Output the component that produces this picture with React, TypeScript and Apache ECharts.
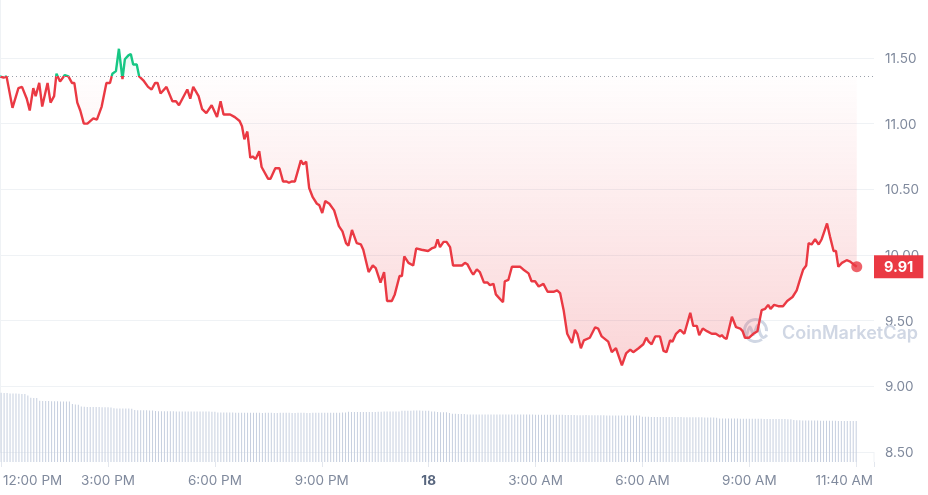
import React, { useEffect, useRef } from "react";
import * as echarts from "echarts";

// Minutes since 12:00 PM (day 17) and price in USD
const minutes = [
  0, 6, 11, 21, 31, 37, 45, 50, 56, 60, 66, 71, 80, 85, 91, 95, 101, 109, 115, 121, 125, 130, 135, 141, 147, 157, 163, 171,
  179, 185, 189, 195, 200, 206, 210, 216, 220, 224, 230, 234, 241, 249, 255, 261, 265, 270, 280, 290, 296, 301, 315, 320,
  325, 334, 340, 347, 356, 365, 371, 376, 387, 395, 403, 407, 411, 416, 421, 425, 430, 436, 440, 451, 455, 463, 470, 476,
  482, 486, 491, 496, 506, 510, 515, 520, 526, 533, 537, 542, 547, 554, 562, 570, 576, 582, 586, 592, 600, 607, 611, 620,
  627, 632, 640, 646, 651, 659, 664, 672, 676, 680, 687, 695, 700, 709, 720, 726, 732, 736, 740, 746, 751, 757, 762, 769,
  777, 782, 786, 793, 796, 802, 807, 814, 820, 824, 830, 834, 840, 846, 849, 855, 861, 875, 880, 889, 894, 900, 906, 914,
  921, 931, 937, 942, 948, 954, 962, 967, 971, 977, 982, 992, 1001, 1006, 1012, 1023, 1029, 1036, 1046, 1053, 1060, 1065,
  1074, 1082, 1087, 1091, 1096, 1102, 1110, 1116, 1121, 1127, 1131, 1137, 1144, 1151, 1161, 1166, 1172, 1176, 1182, 1189,
  1197, 1204, 1211, 1214, 1218, 1222, 1231, 1238, 1245, 1249, 1253, 1260, 1267, 1274, 1281, 1287, 1292, 1296, 1302, 1309,
  1317, 1324, 1333, 1340, 1346, 1351, 1356, 1360, 1365, 1371, 1377, 1382, 1391, 1396, 1402, 1406, 1410, 1416, 1424, 1430,
  1435, 1441,
];
const prices = [
  11.36, 11.35, 11.36, 11.12, 11.27, 11.28, 11.19, 11.1, 11.27, 11.21, 11.31, 11.13, 11.31, 11.16, 11.21, 11.38, 11.32,
  11.37, 11.36, 11.31, 11.31, 11.16, 11.1, 11.0, 11.0, 11.04, 11.03, 11.13, 11.31, 11.31, 11.38, 11.4, 11.57, 11.34, 11.49,
  11.52, 11.53, 11.45, 11.45, 11.36, 11.33, 11.28, 11.26, 11.31, 11.31, 11.23, 11.28, 11.17, 11.17, 11.14, 11.26, 11.19,
  11.28, 11.21, 11.11, 11.08, 11.14, 11.05, 11.17, 11.07, 11.07, 11.05, 11.02, 10.98, 10.88, 10.94, 10.74, 10.75, 10.73,
  10.79, 10.67, 10.58, 10.58, 10.66, 10.66, 10.56, 10.56, 10.55, 10.56, 10.56, 10.72, 10.69, 10.71, 10.51, 10.44, 10.39,
  10.38, 10.32, 10.41, 10.39, 10.34, 10.22, 10.18, 10.09, 10.07, 10.19, 10.09, 10.08, 10.04, 9.87, 9.92, 9.9, 9.79, 9.87,
  9.65, 9.65, 9.7, 9.84, 9.84, 9.99, 9.94, 9.92, 10.05, 10.04, 10.03, 10.05, 10.06, 10.12, 10.06, 10.1, 10.1, 10.06, 9.92,
  9.92, 9.92, 9.94, 9.93, 9.87, 9.85, 9.89, 9.87, 9.79, 9.79, 9.77, 9.78, 9.7, 9.67, 9.64, 9.8, 9.81, 9.91, 9.91, 9.89,
  9.86, 9.8, 9.8, 9.76, 9.78, 9.72, 9.72, 9.73, 9.71, 9.58, 9.4, 9.33, 9.43, 9.4, 9.29, 9.35, 9.37, 9.45, 9.44, 9.38,
  9.34, 9.26, 9.29, 9.16, 9.25, 9.28, 9.26, 9.29, 9.32, 9.37, 9.34, 9.32, 9.38, 9.38, 9.27, 9.26, 9.35, 9.34, 9.4, 9.43,
  9.4, 9.56, 9.46, 9.46, 9.39, 9.44, 9.42, 9.4, 9.4, 9.38, 9.39, 9.37, 9.36, 9.53, 9.45, 9.44, 9.42, 9.37, 9.37, 9.4,
  9.42, 9.58, 9.59, 9.62, 9.59, 9.62, 9.61, 9.61, 9.65, 9.68, 9.73, 9.82, 9.89, 9.92, 10.09, 10.08, 10.12, 10.08, 10.12,
  10.24, 10.14, 10.03, 10.03, 9.91, 9.94, 9.96, 9.95, 9.93, 9.91,
];
const openPrice = 11.363;

// 24h volume (millions), one bar every 5 minutes from 12:00 PM
const volumeStepMinutes = 5;
const volume24h = [
  69.2, 69.0, 68.9, 68.6, 68.4, 68.4, 68.2, 68.1, 67.9, 66.6, 64.3, 64.1,
  63.9, 61.2, 61.0, 61.0, 60.9, 60.8, 60.8, 60.7, 60.6, 60.5, 60.5, 60.4,
  58.0, 57.6, 57.3, 55.4, 55.2, 55.1, 55.0, 55.0, 54.9, 54.9, 54.8, 54.8,
  54.7, 54.4, 53.7, 53.6, 53.5, 53.5, 53.4, 53.4, 53.3, 51.9, 51.8, 51.8,
  51.7, 51.7, 51.6, 51.6, 50.9, 50.8, 50.8, 50.8, 50.7, 50.7, 50.7, 50.6,
  50.6, 50.6, 50.6, 50.5, 50.5, 50.5, 50.5, 50.4, 50.4, 50.4, 50.4, 50.3,
  50.3, 49.6, 49.5, 49.5, 49.4, 49.4, 49.4, 49.3, 49.3, 49.3, 49.3, 49.3,
  49.3, 49.2, 49.2, 49.2, 49.1, 49.2, 49.2, 49.2, 49.1, 49.1, 49.2, 49.2,
  49.2, 49.2, 49.1, 49.1, 49.2, 49.2, 49.2, 49.1, 49.1, 49.2, 49.2, 49.2,
  49.2, 49.2, 49.3, 49.3, 49.3, 49.3, 49.3, 49.4, 49.4, 50.2, 50.1, 50.1,
  50.0, 50.0, 49.9, 49.9, 49.9, 49.9, 50.0, 50.3, 50.3, 50.4, 50.4, 50.4,
  50.4, 50.4, 50.5, 51.3, 51.3, 51.3, 51.3, 51.4, 51.4, 51.4, 51.3, 51.3,
  51.2, 50.6, 50.4, 50.0, 49.8, 49.7, 49.7, 49.0, 48.3, 48.2, 48.1, 48.1,
  48.0, 47.6, 47.5, 47.6, 47.6, 47.5, 47.5, 47.5, 47.4, 47.4, 47.6, 47.6,
  47.5, 47.5, 47.4, 47.4, 47.5, 47.5, 47.5, 47.4, 47.4, 47.4, 47.4, 47.4,
  47.3, 47.3, 47.3, 47.2, 47.2, 47.2, 47.3, 47.3, 47.2, 47.2, 47.1, 47.1,
  47.1, 47.0, 46.8, 46.8, 46.8, 47.0, 46.8, 46.8, 46.7, 46.7, 46.7, 46.7,
  46.6, 46.6, 46.6, 46.6, 46.5, 46.5, 46.5, 46.5, 46.5, 46.4, 46.4, 46.4,
  45.3, 45.2, 45.2, 45.1, 45.1, 45.1, 45.0, 45.0, 45.0, 45.0, 45.0, 44.9,
  44.9, 44.9, 44.8, 44.8, 44.8, 44.8, 44.8, 44.7, 44.7, 44.6, 44.6, 44.6,
  44.6, 44.2, 43.6, 43.5, 43.5, 43.4, 43.4, 43.4, 43.4, 43.3, 43.3, 43.3,
  43.2, 43.2, 43.2, 43.2, 43.2, 43.1, 43.1, 43.1, 43.1, 43.0, 43.0, 42.9,
  42.9, 42.8, 42.8, 41.9, 41.7, 41.7, 41.6, 41.6, 41.5, 41.5, 41.4, 41.4,
  41.3, 41.3, 41.3, 41.2, 41.2, 41.2, 41.1, 41.1, 41.1, 41.0, 41.0, 41.0,
  40.9,
];

// x-axis: a label every 180 minutes, plus the final "11:40 AM" mark
const tickStep = 180;
const tickLabels = ["12:00 PM", "3:00 PM", "6:00 PM", "9:00 PM", "18", "3:00 AM", "6:00 AM", "9:00 AM"];
const lastTickMinute = 1420;
const lastTickLabel = "11:40 AM";
const dayLabel = "18";

// The canvas is extended 20px above the window so the price grid's top (12.00) sits just off-screen.
const OFF = 20;

export default function App() {
  const ref = useRef<HTMLDivElement>(null);

  useEffect(() => {
    if (!ref.current) return;
    const chart = echarts.init(ref.current, null, { renderer: "svg" });
    const RED = "#ea3943";
    const GREEN = "#16c784";
    const GRID = "#eff2f5";
    const LABEL = "#808a9d";
    const WM = "#d0d7e4";
    const FS = 13.5;

    const priceData = minutes.map((m, i) => [m, prices[i]]);
    const redData = minutes.map((m, i) => [m, Math.min(prices[i], openPrice)]);
    const greenData = minutes.map((m, i) => [m, Math.max(prices[i], openPrice)]);
    const volData = volume24h.map((v, i) => [i * volumeStepMinutes, v]);
    const last = prices.length - 1;

    const labelFor = (v: number) => {
      const k = Math.round(v / tickStep);
      if (Math.abs(k * tickStep - v) > 0.5 || k >= tickLabels.length) return "";
      const t = tickLabels[k];
      if (k === 0) return `{first|${t}}`;
      return t === dayLabel ? `{b|${t}}` : t;
    };

    const option: any = {
      animation: false,
      textStyle: { fontFamily: "Inter" },
      grid: [
        { left: 0, right: 54, top: OFF - 7.7, bottom: 43, containLabel: false },
        { left: 0, right: 54, top: OFF + 362, bottom: 33, containLabel: false },
      ],
      xAxis: [
        {
          type: "value", gridIndex: 0, min: 0, max: 1470,
          axisLine: { show: false }, axisTick: { show: false }, axisLabel: { show: false }, splitLine: { show: false },
        },
        {
          type: "value", gridIndex: 1, min: 0, max: 1470, interval: tickStep,
          axisLine: { show: false },
          splitLine: { show: false },
          axisTick: { show: true, length: 5, lineStyle: { color: "#e3e7ee" } },
          axisLabel: {
            formatter: labelFor,
            color: LABEL, fontSize: FS, fontFamily: "Inter", margin: 11,
            showMinLabel: true, showMaxLabel: true, hideOverlap: false,
            rich: {
              b: { fontWeight: "bold", color: "#58667e", fontSize: FS, fontFamily: "Inter" },
              first: { color: LABEL, fontSize: FS, fontFamily: "Inter", padding: [0, 0, 0, 63] },
            },
          },
        },
      ],
      yAxis: [
        {
          type: "value", gridIndex: 0, position: "right", min: 8.5, max: 12, interval: 0.5,
          axisLine: { show: true, lineStyle: { color: GRID } },
          axisTick: { show: false },
          splitLine: { show: true, lineStyle: { color: GRID } },
          axisLabel: {
            color: LABEL, fontSize: FS, fontFamily: "Inter", margin: 11, align: "left",
            showMaxLabel: false,
            formatter: (v: number) => v.toFixed(2),
          },
        },
        {
          type: "value", gridIndex: 1, position: "right", min: 0, max: 100,
          axisLine: { show: false },
          axisTick: { show: false }, axisLabel: { show: false }, splitLine: { show: false },
        },
      ],
      visualMap: {
        type: "piecewise", show: false, seriesIndex: 3, dimension: 1,
        pieces: [
          { gt: openPrice, lte: 100, color: GREEN },
          { gte: 0, lte: openPrice, color: RED },
        ],
      },
      series: [
        {
          type: "bar", xAxisIndex: 1, yAxisIndex: 1, data: volData, barWidth: 1, silent: true,
          itemStyle: { color: "#c6cfdf" },
        },
        {
          type: "line", xAxisIndex: 0, yAxisIndex: 0, data: redData, showSymbol: false, silent: true,
          lineStyle: { color: "rgba(0,0,0,0)", width: 0 },
          areaStyle: {
            origin: openPrice,
            color: new echarts.graphic.LinearGradient(0, 0, 0, 1, [
              { offset: 0, color: "rgba(234,57,67,0.01)" },
              { offset: 1, color: "rgba(234,57,67,0.3)" },
            ]),
          },
          markLine: {
            silent: true, symbol: ["none", "none"],
            data: [
              {
                yAxis: openPrice,
                lineStyle: { type: [1, 3], color: "#9aa0aa", width: 1 },
                label: { show: false },
              },
              {
                yAxis: prices[last],
                lineStyle: { color: "rgba(0,0,0,0)", width: 1, type: "solid" },
                label: {
                  show: true, position: "end", distance: 0,
                  formatter: prices[last].toFixed(2),
                  backgroundColor: RED, color: "#fff", fontWeight: "bold", fontSize: 14.5,
                  fontFamily: "Inter", padding: [4, 10, 4, 10], lineHeight: 15,
                },
              },
            ],
          },
        },
        {
          type: "line", xAxisIndex: 0, yAxisIndex: 0, data: greenData, showSymbol: false, silent: true,
          lineStyle: { color: "rgba(0,0,0,0)", width: 0 },
          areaStyle: {
            origin: openPrice,
            color: new echarts.graphic.LinearGradient(0, 0, 0, 1, [
              { offset: 0, color: "rgba(22,199,132,0.18)" },
              { offset: 1, color: "rgba(22,199,132,0.02)" },
            ]),
          },
        },
        {
          type: "line", xAxisIndex: 0, yAxisIndex: 0, data: priceData, showSymbol: false, silent: true,
          lineStyle: { width: 2.4 },
        },
        {
          type: "scatter", xAxisIndex: 0, yAxisIndex: 0, silent: true,
          data: [[minutes[last], prices[last]]], symbolSize: 11,
          itemStyle: { color: RED },
        },
      ],
    };

    chart.setOption(option);

    const xLast = chart.convertToPixel({ xAxisIndex: 1 }, lastTickMinute) as number;
    const yAxisBase = chart.convertToPixel({ yAxisIndex: 1 }, 0) as number;
    const xRight = chart.convertToPixel({ xAxisIndex: 1 }, 1470) as number;
    const yPriceBottom = chart.convertToPixel({ yAxisIndex: 0 }, 8.5) as number;
    chart.setOption({
      graphic: [
        {
          type: "line", silent: true,
          shape: { x1: xRight, y1: yPriceBottom, x2: xRight, y2: yAxisBase },
          style: { stroke: GRID, lineWidth: 1 },
        },
        {
          type: "arc", z: 1, silent: true,
          shape: { cx: 755.5, cy: OFF + 330.5, r: 11, startAngle: Math.PI * 0.3, endAngle: Math.PI * 2.02, clockwise: true },
          style: { stroke: WM, lineWidth: 3, fill: "none" },
        },
        {
          type: "polyline", z: 1, silent: true,
          shape: {
            points: [[746.5, OFF + 336], [750, OFF + 327], [753.5, OFF + 334.5], [757.5, OFF + 325.5], [760.5, OFF + 334.5], [763.5, OFF + 337.5], [767, OFF + 335]],
            smooth: 0.35,
          },
          style: { stroke: WM, lineWidth: 3, fill: "none" },
        },
        {
          type: "text", z: 1, silent: true, x: 782, y: OFF + 332,
          style: { text: "CoinMarketCap", fill: WM, fontSize: 18, fontWeight: 600, fontFamily: "Inter", verticalAlign: "middle" },
        },
        {
          type: "text", silent: true, x: xLast, y: yAxisBase + 11,
          style: { text: lastTickLabel, fill: LABEL, fontSize: FS, fontFamily: "Inter", align: "center", verticalAlign: "top" },
        },
      ],
    });

    return () => chart.dispose();
  }, []);

  return <div ref={ref} style={{ position: "fixed", left: 0, top: -OFF, width: 928, height: 495 + OFF }} />;
}
